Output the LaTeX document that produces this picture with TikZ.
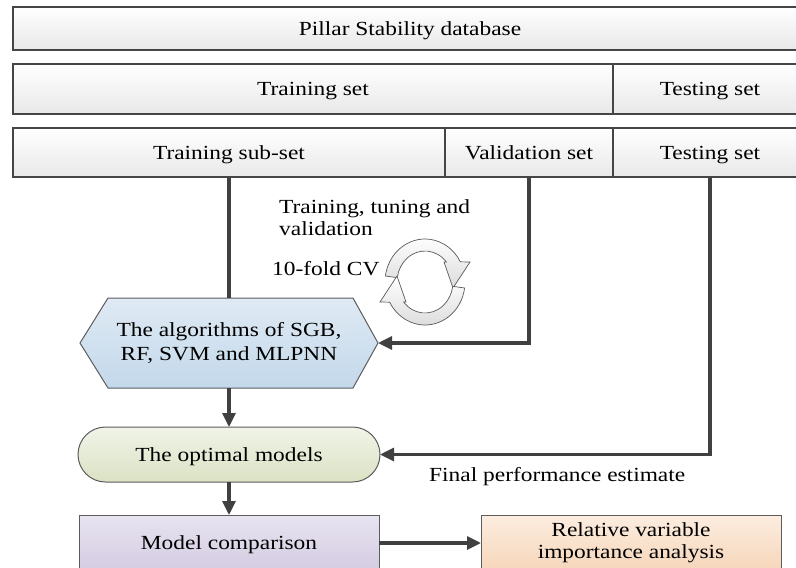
\documentclass[tikz,border=0pt]{standalone}
\usepackage{fontspec}
\setmainfont{Liberation Serif}[FakeStretch=1.17]
\usetikzlibrary{arrows.meta,shapes.misc,calc}
\pgfdeclarelayer{bg}
\pgfsetlayers{bg,main}

\definecolor{connector}{HTML}{404040}
\definecolor{rowedge}{HTML}{454545}
\definecolor{shapeedge}{HTML}{5C5C5C}

\tikzset{
  rowcell/.style={rectangle, draw=rowedge, line width=1.8pt, inner sep=0pt, outer sep=0pt,
    top color=white, bottom color=black!9, text height=13.2pt, text depth=0pt},
  flowline/.style={draw=connector, line width=3.2pt},
  flowarrow/.style={flowline, -{Triangle[length=14pt,width=13pt]}},
  hexfill/.style={draw=shapeedge, line width=1pt, top color=hexTop, bottom color=hexBot},
  stadium/.style={rounded rectangle, draw=shapeedge, line width=1pt, inner sep=0pt, outer sep=0pt,
    top color=optTop, bottom color=optBot, text height=13.2pt, text depth=0pt},
  plainbox/.style={rectangle, draw=shapeedge, line width=1pt, inner sep=0pt, outer sep=0pt},
  cyclepart/.style={draw=black!65, line width=0.7pt, top color=white, bottom color=black!14},
}
\definecolor{hexTop}{HTML}{DFEAF4}
\definecolor{hexBot}{HTML}{C3D8EA}
\definecolor{optTop}{HTML}{F1F4E8}
\definecolor{optBot}{HTML}{DAE2C4}
\definecolor{cmpTop}{HTML}{E7E3F0}
\definecolor{cmpBot}{HTML}{D4CCE2}
\definecolor{relTop}{HTML}{FCEDE0}
\definecolor{relBot}{HTML}{F6D6BA}

\begin{document}
\begin{tikzpicture}[x=1pt, y=-1pt, font=\fontsize{20}{23}\selectfont]
\useasboundingbox (0,0) rectangle (796,568);
\clip (0,0) rectangle (796,568);

% data split rows
\node[rowcell, minimum width=794pt, minimum height=43pt] (db) at (410,28.5) {Pillar Stability database};

\node[rowcell, minimum width=600pt, minimum height=50pt] (train) at (313,89) {Training set};
\node[rowcell, minimum width=194pt, minimum height=50pt] (test2) at (710,89) {Testing set};

\node[rowcell, minimum width=432pt, minimum height=49pt] (tsub) at (229,152.5) {Training sub-set};
\node[rowcell, minimum width=168pt, minimum height=49pt] (val) at (529,152.5) {Validation set};
\node[rowcell, minimum width=194pt, minimum height=49pt] (test3) at (710,152.5) {Testing set};

% algorithms (hexagon outline drawn behind the text node)
\node[rectangle, inner sep=0pt, outer sep=0pt, minimum width=298pt, minimum height=90pt,
      align=center, font=\fontsize{20}{24}\selectfont] (hex) at (229,343)
  {The algorithms of SGB,\\RF, SVM and MLPNN};
\begin{pgfonlayer}{bg}
  \path[hexfill] (hex.west) -- ($(hex.north west)+(28,0)$) -- ($(hex.north east)+(-25,0)$)
    -- (hex.east) -- ($(hex.south east)+(-25,0)$) -- ($(hex.south west)+(28,0)$) -- cycle;
\end{pgfonlayer}

% optimal models
\node[stadium, minimum width=302pt, minimum height=55pt] (opt) at (229,454.5) {The optimal models};

% comparison and importance analysis
\node[plainbox, minimum width=300pt, minimum height=56pt, top color=cmpTop, bottom color=cmpBot,
      text height=13.2pt, text depth=0pt] (cmp) at (229,543) {Model comparison};
\node[plainbox, minimum width=300pt, minimum height=56pt, top color=relTop, bottom color=relBot,
      align=center, font=\fontsize{20}{22}\selectfont] (rel) at (631,543)
  {Relative variable\\importance analysis};

% labels
\node[anchor=north west, align=left, inner sep=0pt, font=\fontsize{20}{22}\selectfont] (lbltune) at (279,199.5)
  {Training, tuning and\\validation};
\node[anchor=base west, inner sep=0pt] (lblcv) at (272,275) {10-fold CV};
\node[anchor=base west, inner sep=0pt] (lblfinal) at (429,481) {Final performance estimate};

% circular cross-validation arrows
\begin{scope}[shift={(425,282)}, y=1pt]
  \path[cyclepart] (172:40 and 43) arc[start angle=172, end angle=28, x radius=40, y radius=43]
    -- (45,20) -- (28,-6) -- (19,20) -- (40:28 and 31)
    arc[start angle=40, end angle=172, x radius=28, y radius=31] -- cycle;
  \path[cyclepart, rotate=180] (172:40 and 43) arc[start angle=172, end angle=28, x radius=40, y radius=43]
    -- (45,20) -- (28,-6) -- (19,20) -- (40:28 and 31)
    arc[start angle=40, end angle=172, x radius=28, y radius=31] -- cycle;
\end{scope}

% connectors
\draw[flowline] (tsub.south) -- (hex.north);
\draw[flowarrow] (val.south) |- (hex.east);
\draw[flowarrow] (test3.south) |- (opt.east);
\draw[flowarrow] (hex.south) -- (opt.north);
\draw[flowarrow] (opt.south) -- (cmp.north);
\draw[flowarrow] (cmp.east) -- (rel.west);
\end{tikzpicture}
\end{document}
